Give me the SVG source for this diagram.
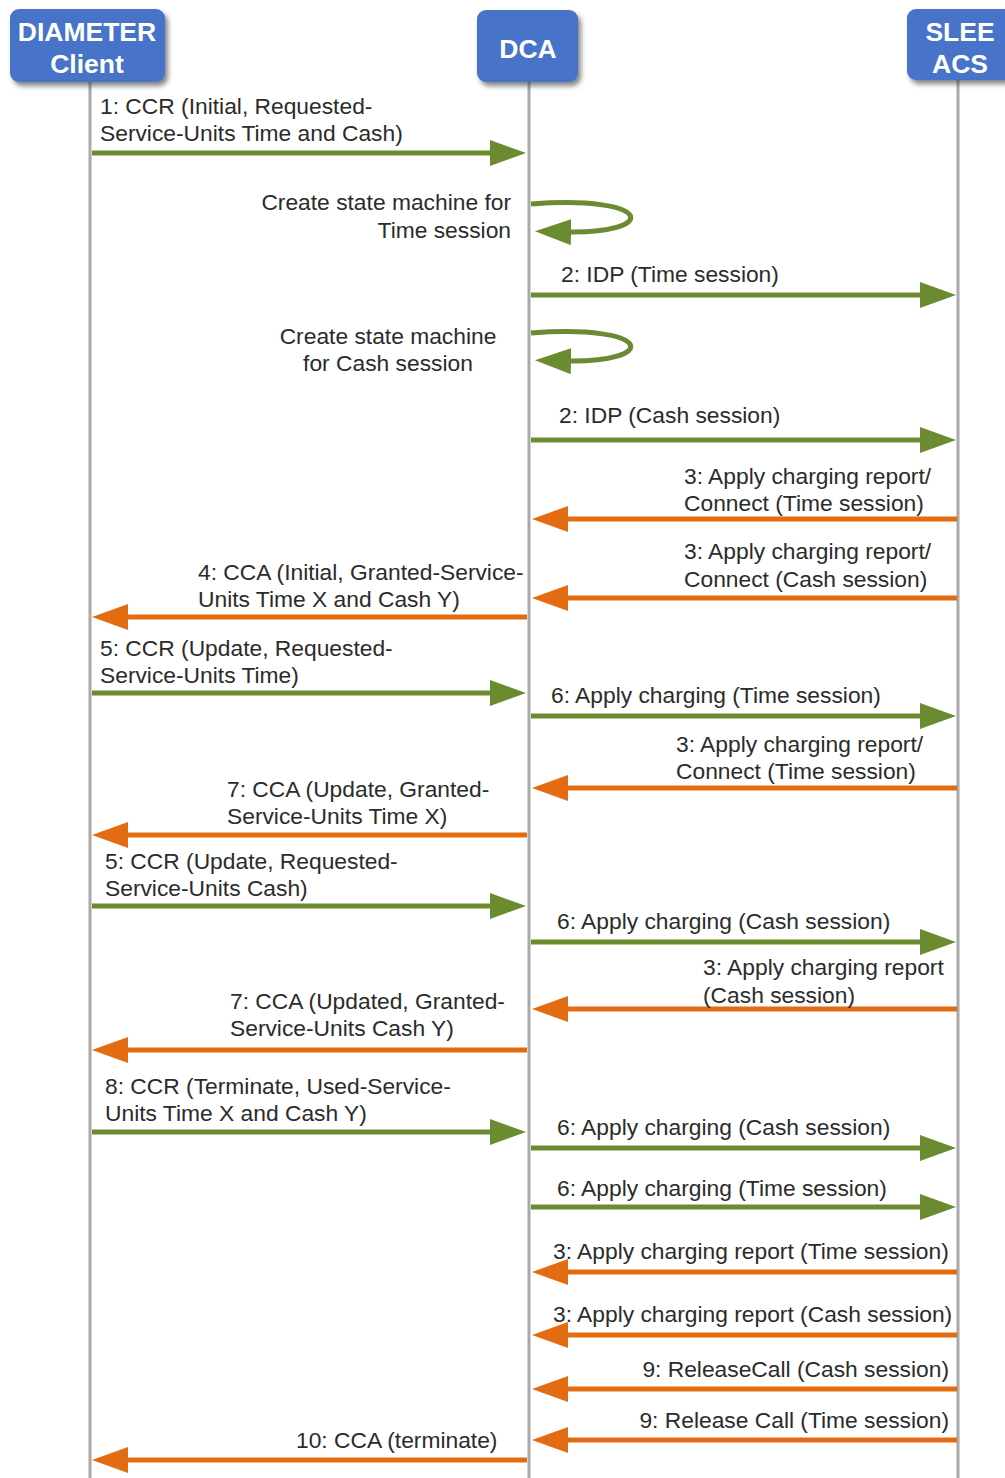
<svg xmlns="http://www.w3.org/2000/svg" width="1005" height="1478" viewBox="0 0 1005 1478">
<style>
.lbl{font-family:"Liberation Sans",Arial,sans-serif;font-size:22.8px;fill:#2b2b2b}
.hd{font-family:"Liberation Sans",Arial,sans-serif;font-size:26.5px;font-weight:bold;fill:#ffffff;text-anchor:middle}
.box{fill:#4673c8;filter:url(#sh)}
.life{stroke:#a9a9a9;stroke-width:3;fill:none}
.g{stroke:#6a8b2f;stroke-width:5;fill:none;marker-end:url(#mg)}
.o{stroke:#e36c12;stroke-width:5;fill:none;marker-end:url(#mo)}
.r{text-anchor:end}
.m{text-anchor:middle}
</style>
<defs>
<filter id="sh" x="-20%" y="-20%" width="150%" height="160%">
<feDropShadow dx="3" dy="4" stdDeviation="2.5" flood-color="#333" flood-opacity="0.6"/>
</filter>
<marker id="mg" viewBox="0 0 36 26" refX="6" refY="13" markerWidth="36" markerHeight="26" markerUnits="userSpaceOnUse" orient="auto">
<path d="M0,0 L36,13 L0,26 z" fill="#6a8b2f"/>
</marker>
<marker id="mo" viewBox="0 0 36 26" refX="6" refY="13" markerWidth="36" markerHeight="26" markerUnits="userSpaceOnUse" orient="auto">
<path d="M0,0 L36,13 L0,26 z" fill="#e36c12"/>
</marker>
</defs>
<rect width="1005" height="1478" fill="#ffffff"/>

<g id="lifelines">
<line class="life" x1="90" y1="82" x2="90" y2="1478"/>
<line class="life" x1="529" y1="82" x2="529" y2="1478"/>
<line class="life" x1="958" y1="80" x2="958" y2="1478"/>
</g>

<g id="node-client">
<rect class="box" x="10" y="9" width="155" height="73" rx="9"/>
<text class="hd" x="87" y="41">DIAMETER</text>
<text class="hd" x="87" y="73">Client</text>
</g>
<g id="node-dca">
<rect class="box" x="477" y="10" width="101" height="72" rx="9"/>
<text class="hd" x="528" y="58">DCA</text>
</g>
<g id="node-slee">
<rect class="box" x="907" y="9" width="110" height="71" rx="9"/>
<text class="hd" x="960" y="41">SLEE</text>
<text class="hd" x="960" y="73">ACS</text>
</g>

<g id="connectors">
<line class="g" x1="92" y1="153" x2="496" y2="153"/>
<path class="g" d="M531,204 C655,195 660,234 565,232"/>
<line class="g" x1="531" y1="295" x2="926" y2="295"/>
<path class="g" d="M531,333 C655,324 660,363 565,361"/>
<line class="g" x1="531" y1="440" x2="926" y2="440"/>
<line class="o" x1="957" y1="519" x2="562" y2="519"/>
<line class="o" x1="957" y1="598" x2="562" y2="598"/>
<line class="o" x1="527" y1="617" x2="122" y2="617"/>
<line class="g" x1="92" y1="693" x2="496" y2="693"/>
<line class="g" x1="531" y1="716" x2="926" y2="716"/>
<line class="o" x1="957" y1="788" x2="562" y2="788"/>
<line class="o" x1="527" y1="835" x2="122" y2="835"/>
<line class="g" x1="92" y1="906" x2="496" y2="906"/>
<line class="g" x1="531" y1="942" x2="926" y2="942"/>
<line class="o" x1="957" y1="1009" x2="562" y2="1009"/>
<line class="o" x1="527" y1="1050" x2="122" y2="1050"/>
<line class="g" x1="92" y1="1132" x2="496" y2="1132"/>
<line class="g" x1="531" y1="1148" x2="926" y2="1148"/>
<line class="g" x1="531" y1="1207" x2="926" y2="1207"/>
<line class="o" x1="957" y1="1272" x2="562" y2="1272"/>
<line class="o" x1="957" y1="1335" x2="562" y2="1335"/>
<line class="o" x1="957" y1="1389" x2="562" y2="1389"/>
<line class="o" x1="957" y1="1440" x2="562" y2="1440"/>
<line class="o" x1="527" y1="1460" x2="122" y2="1460"/>
</g>

<g id="labels">
<text class="lbl" x="100" y="114">1: CCR (Initial, Requested-</text>
<text class="lbl" x="100" y="141">Service-Units Time and Cash)</text>
<text class="lbl r" x="511" y="210">Create state machine for</text>
<text class="lbl r" x="511" y="238">Time session</text>
<text class="lbl" x="561" y="282">2: IDP (Time session)</text>
<text class="lbl m" x="388" y="344">Create state machine</text>
<text class="lbl m" x="388" y="371">for Cash session</text>
<text class="lbl" x="559" y="423">2: IDP (Cash session)</text>
<text class="lbl" x="684" y="484">3: Apply charging report/</text>
<text class="lbl" x="684" y="511">Connect (Time session)</text>
<text class="lbl" x="684" y="559">3: Apply charging report/</text>
<text class="lbl" x="684" y="587">Connect (Cash session)</text>
<text class="lbl" x="198" y="580">4: CCA (Initial, Granted-Service-</text>
<text class="lbl" x="198" y="607">Units Time X and Cash Y)</text>
<text class="lbl" x="100" y="656">5: CCR (Update, Requested-</text>
<text class="lbl" x="100" y="683">Service-Units Time)</text>
<text class="lbl" x="551" y="703">6: Apply charging (Time session)</text>
<text class="lbl" x="676" y="752">3: Apply charging report/</text>
<text class="lbl" x="676" y="779">Connect (Time session)</text>
<text class="lbl" x="227" y="797">7: CCA (Update, Granted-</text>
<text class="lbl" x="227" y="824">Service-Units Time X)</text>
<text class="lbl" x="105" y="869">5: CCR (Update, Requested-</text>
<text class="lbl" x="105" y="896">Service-Units Cash)</text>
<text class="lbl" x="557" y="929">6: Apply charging (Cash session)</text>
<text class="lbl" x="703" y="975">3: Apply charging report</text>
<text class="lbl" x="703" y="1003">(Cash session)</text>
<text class="lbl" x="230" y="1009">7: CCA (Updated, Granted-</text>
<text class="lbl" x="230" y="1036">Service-Units Cash Y)</text>
<text class="lbl" x="105" y="1094">8: CCR (Terminate, Used-Service-</text>
<text class="lbl" x="105" y="1121">Units Time X and Cash Y)</text>
<text class="lbl" x="557" y="1135">6: Apply charging (Cash session)</text>
<text class="lbl" x="557" y="1196">6: Apply charging (Time session)</text>
<text class="lbl" x="553" y="1259">3: Apply charging report (Time session)</text>
<text class="lbl" x="553" y="1322">3: Apply charging report (Cash session)</text>
<text class="lbl r" x="949" y="1377">9: ReleaseCall (Cash session)</text>
<text class="lbl r" x="949" y="1428">9: Release Call (Time session)</text>
<text class="lbl" x="296" y="1448">10: CCA (terminate)</text>
</g>
</svg>
